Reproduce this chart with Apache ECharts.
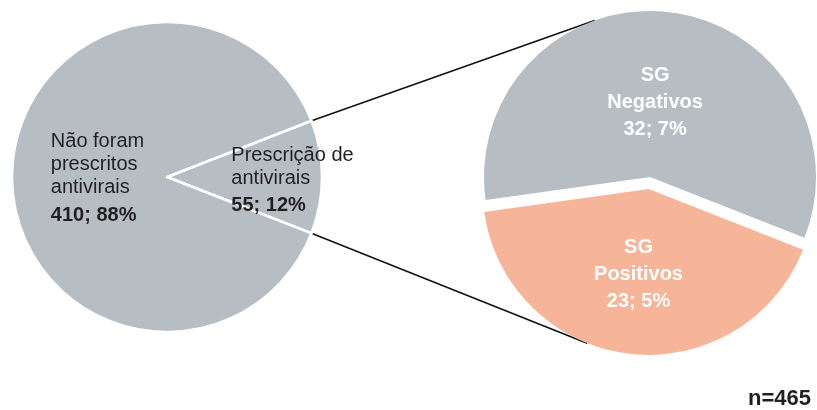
<!DOCTYPE html>
<html>
<head>
<meta charset="utf-8">
<script src="https://cdn.jsdelivr.net/npm/echarts@6/dist/echarts.min.js"></script>
<style>
  html, body { margin: 0; padding: 0; background: #fff; }
  #main { width: 817px; height: 410px; }
</style>
</head>
<body>
<div id="main"></div>
<script>
// prescription split (left pie) and its breakdown (right pie)
var mainNames = ['Prescrição de\nantivirais', 'Não foram\nprescritos\nantivirais'];
var mainValues = [55, 410];
var subNames = ['SG\nNegativos', 'SG\nPositivos'];
var subValues = [32, 23];

var grey = '#b6bec3';
var salmon = '#f6b498';
var ink = '#231f20';
var font = '"Liberation Sans", Arial, Helvetica, sans-serif';

var total = mainValues[0] + mainValues[1];
var subTotal = subValues[0] + subValues[1];
function pct(v) { return Math.round(v / total * 100); }

var chart = echarts.init(document.getElementById('main'));

// geometry of the two pies
var leftC = [167, 177], leftR = 155;
var rightC = [650, 177], rightR = 166;
var rightStart = 188, explode = 12;
var half = mainValues[0] / total * 180;

function pt(c, r, deg) {
  var a = deg * Math.PI / 180;
  return [c[0] + r * Math.cos(a), c[1] - r * Math.sin(a)];
}
// centre of the pulled-out slice
var posMid = rightStart - 360 * subValues[0] / subTotal - 180 * subValues[1] / subTotal;
var posC = pt(rightC, explode, posMid);

// tangent point from p to a circle (side = +1 upper, -1 lower)
function tangent(p, c, r, side) {
  var dx = c[0] - p[0], dy = c[1] - p[1];
  var d = Math.sqrt(dx * dx + dy * dy);
  var base = Math.atan2(dy, dx);
  var off = Math.asin(r / d);
  var ang = base - side * off;
  var len = Math.sqrt(d * d - r * r);
  return [p[0] + len * Math.cos(ang), p[1] + len * Math.sin(ang)];
}
var a1 = pt(leftC, leftR - 2, half), a2 = pt(leftC, leftR - 2, -half);
var b1 = tangent(a1, rightC, rightR, 1), b2 = tangent(a2, posC, rightR, -1);

function leftLabel(p) {
  var lines = p.name.split('\n').map(function (s) { return '{r|' + s + '}'; });
  var tag = p.dataIndex === 0 ? 'b1' : 'b2';
  return lines.join('\n') + '\n{' + tag + '|' + p.value + '; ' + pct(p.value) + '%}';
}

var option = {
  animation: false,
  textStyle: { fontFamily: font },
  title: {
    text: 'n=' + total,
    right: 6,
    bottom: 0,
    padding: 0,
    textStyle: { fontFamily: font, fontSize: 22, fontWeight: 'bold', color: ink }
  },
  graphic: [
    { type: 'line', z: 0, shape: { x1: a1[0], y1: a1[1], x2: b1[0], y2: b1[1] }, style: { stroke: '#111', lineWidth: 1.6 } },
    { type: 'line', z: 0, shape: { x1: a2[0], y1: a2[1], x2: b2[0], y2: b2[1] }, style: { stroke: '#111', lineWidth: 1.6 } }
  ],
  series: [
    {
      type: 'pie',
      center: leftC,
      radius: leftR,
      startAngle: half,
      clockwise: true,
      silent: true,
      z: 5,
      itemStyle: { color: grey, borderColor: '#fff', borderWidth: 2.5 },
      label: {
        position: 'inside',
        color: ink,
        fontSize: 20,
        formatter: leftLabel,
        rich: {
          r: { fontSize: 20, lineHeight: 23, align: 'left', color: ink },
          b1: { fontSize: 20, fontWeight: 'bold', lineHeight: 31, align: 'left', color: ink },
          b2: { fontSize: 20, fontWeight: 'bold', lineHeight: 34, align: 'left', color: ink }
        }
      },
      labelLine: { show: false },
      data: [
        { name: mainNames[0], value: mainValues[0], label: { offset: [45, 5] } },
        { name: mainNames[1], value: mainValues[1], label: { offset: [11, 4] } }
      ]
    },
    {
      type: 'pie',
      center: rightC,
      radius: rightR,
      startAngle: rightStart,
      clockwise: true,
      selectedMode: 'single',
      selectedOffset: explode,
      z: 5,
      itemStyle: { borderWidth: 0 },
      label: {
        position: 'inside',
        color: '#fff',
        fontSize: 20,
        fontWeight: 'bold',
        lineHeight: 27,
        formatter: function (p) {
          return p.name + '\n' + p.value + '; ' + pct(p.value) + '%';
        }
      },
      labelLine: { show: false },
      data: [
        { name: subNames[0], value: subValues[0], itemStyle: { color: grey }, label: { offset: [-5, 11] } },
        { name: subNames[1], value: subValues[1], selected: true, itemStyle: { color: salmon }, label: { offset: [-2, 1] } }
      ]
    }
  ]
};

chart.setOption(option);
</script>
</body>
</html>
